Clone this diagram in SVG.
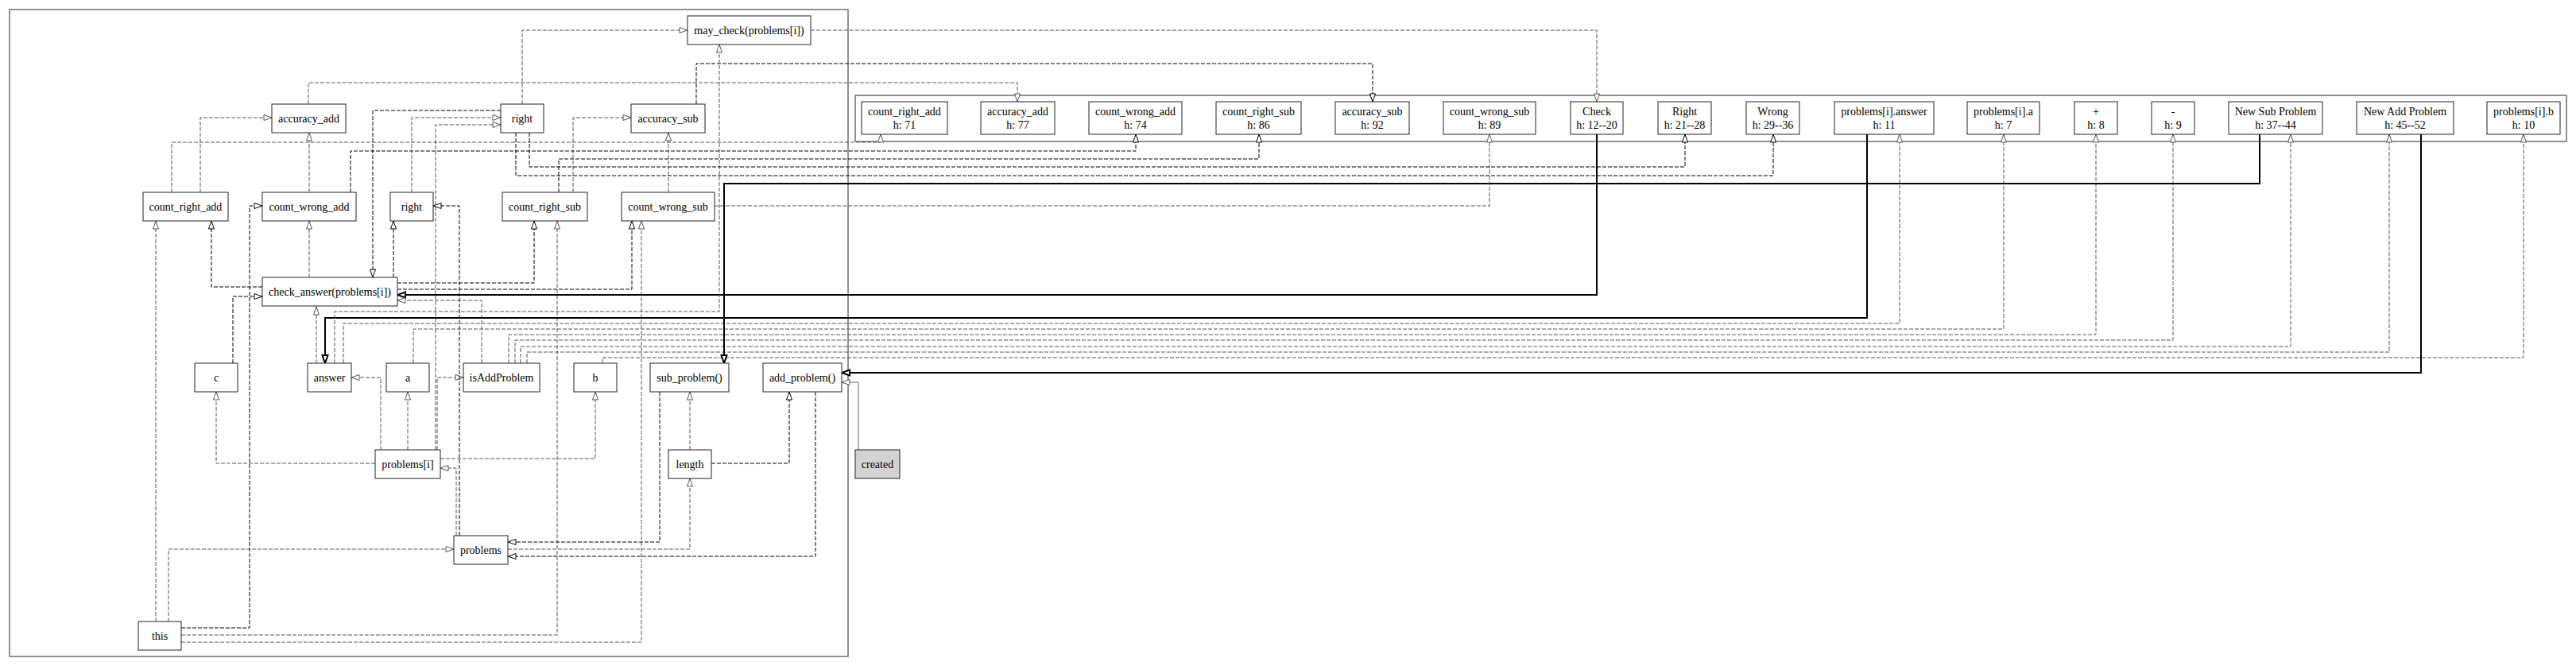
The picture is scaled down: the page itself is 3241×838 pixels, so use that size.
<svg xmlns="http://www.w3.org/2000/svg" width="3241" height="838" viewBox="0 0 3241 838">
<style>
.cl{fill:none;stroke:#6e6e6e;stroke-width:1.5}
.n rect{fill:#fff;stroke:#222;stroke-width:1}
.n text{font-family:"Liberation Serif","Times New Roman",serif;font-size:14px;text-anchor:middle;fill:#000}
.g{fill:none;stroke:#555;stroke-width:1;stroke-dasharray:5,2;marker-end:url(#ag)}
.k{fill:none;stroke:#000;stroke-width:1;stroke-dasharray:5,2;marker-end:url(#ak)}
.t{fill:none;stroke:#000;stroke-width:2;marker-end:url(#at)}
.s{fill:none;stroke:#666;stroke-width:1;marker-end:url(#ag)}
</style>
<defs>
<marker id="ag" viewBox="-1 -1 12 9" refX="10" refY="3.5" markerWidth="12" markerHeight="9" markerUnits="userSpaceOnUse" orient="auto"><path d="M0,0L10,3.5L0,7Z" fill="#fff" stroke="#555"/></marker>
<marker id="ak" viewBox="-1 -1 12 9" refX="10" refY="3.5" markerWidth="12" markerHeight="9" markerUnits="userSpaceOnUse" orient="auto"><path d="M0,0L10,3.5L0,7Z" fill="#fff" stroke="#000"/></marker>
<marker id="at" viewBox="-2 -2 14 11" refX="10" refY="3.5" markerWidth="14" markerHeight="11" markerUnits="userSpaceOnUse" orient="auto"><path d="M0,0L10,3.5L0,7Z" fill="#fff" stroke="#000" stroke-width="2"/></marker>
</defs>
<rect width="3241" height="838" fill="#fff"/>
<rect class="cl" x="12" y="12" width="1055" height="814"/>
<rect class="cl" x="1076" y="120" width="2153" height="58"/>
<g id="connectors">
<path class="g" d="M388,131V104H1280V128"/>
<path class="k" d="M876,131V80H1727V128"/>
<path class="g" d="M1020,38H2009V128"/>
<path class="g" d="M216,242V179H1108V169"/>
<path class="g" d="M252,242V148H342"/>
<path class="g" d="M389,242V167"/>
<path class="k" d="M441,242V190H1429V169"/>
<path class="g" d="M518,242V148H630"/>
<path class="k" d="M630,139H469V349"/>
<path class="g" d="M548,566V157H630"/>
<path class="g" d="M550,566V475H583"/>
<path class="g" d="M479,566V475H442"/>
<path class="g" d="M513,566V493"/>
<path class="g" d="M472,583H272V493"/>
<path class="g" d="M554,577H749V493"/>
<path class="g" d="M574,674V589H554"/>
<path class="k" d="M578,674V259H545"/>
<path class="g" d="M212,782V691H571"/>
<path class="g" d="M196,782V278"/>
<path class="k" d="M228,790H314V259H330"/>
<path class="g" d="M228,799H701V278"/>
<path class="g" d="M228,808H807V278"/>
<path class="k" d="M330,361H266V278"/>
<path class="k" d="M293,457V373H330"/>
<path class="g" d="M389,349V278"/>
<path class="k" d="M495,349V278"/>
<path class="k" d="M500,356H672V278"/>
<path class="k" d="M500,364H795V278"/>
<path class="t" d="M2009,169V371H500"/>
<path class="g" d="M606,457V378H500"/>
<path class="g" d="M398,457V386"/>
<path class="t" d="M2349,169V400H409V457"/>
<path class="g" d="M421,457V392H905V56"/>
<path class="g" d="M432,457V407H2390V169"/>
<path class="g" d="M520,457V414H2521V169"/>
<path class="g" d="M640,457V421H2637V169"/>
<path class="g" d="M648,457V428H2734V169"/>
<path class="g" d="M655,457V436H2882V169"/>
<path class="g" d="M663,457V443H3006V169"/>
<path class="g" d="M758,457V450H3175V169"/>
<path class="t" d="M2843,169V231H911V457"/>
<path class="t" d="M3046,169V469H1059"/>
<path class="k" d="M703,242V200H1584V169"/>
<path class="g" d="M721,242V148H794"/>
<path class="g" d="M841,242V167"/>
<path class="g" d="M899,259H1874V169"/>
<path class="k" d="M666,167V210H2120V169"/>
<path class="k" d="M649,167V221H2231V169"/>
<path class="g" d="M657,131V38H865"/>
<path class="k" d="M830,493V682H639"/>
<path class="g" d="M868,566V493"/>
<path class="k" d="M895,583H993V493"/>
<path class="g" d="M639,691H868V602"/>
<path class="k" d="M1026,493V700H639"/>
<path class="s" d="M1080,566V481H1059"/>
</g>
<g id="n_accuracy_add" class="n"><rect x="342" y="131" width="93" height="36"/><text x="388.5" y="153.5">accuracy_add</text></g>
<g id="n_count_right_add" class="n"><rect x="180" y="242" width="107" height="36"/><text x="233.5" y="264.5">count_right_add</text></g>
<g id="n_count_wrong_add" class="n"><rect x="330" y="242" width="118" height="36"/><text x="389" y="264.5">count_wrong_add</text></g>
<g id="n_right1" class="n"><rect x="491" y="242" width="54" height="36"/><text x="518" y="264.5">right</text></g>
<g id="n_right2" class="n"><rect x="630" y="131" width="54" height="36"/><text x="657" y="153.5">right</text></g>
<g id="n_may_check" class="n"><rect x="865" y="20" width="155" height="36"/><text x="942.5" y="42.5">may_check(problems[i])</text></g>
<g id="n_accuracy_sub" class="n"><rect x="794" y="131" width="93" height="36"/><text x="840.5" y="153.5">accuracy_sub</text></g>
<g id="n_count_right_sub" class="n"><rect x="632" y="242" width="107" height="36"/><text x="685.5" y="264.5">count_right_sub</text></g>
<g id="n_count_wrong_sub" class="n"><rect x="782" y="242" width="117" height="36"/><text x="840.5" y="264.5">count_wrong_sub</text></g>
<g id="n_check_answer" class="n"><rect x="330" y="349" width="170" height="36"/><text x="415" y="371.5">check_answer(problems[i])</text></g>
<g id="n_c" class="n"><rect x="245" y="457" width="54" height="36"/><text x="272" y="479.5">c</text></g>
<g id="n_answer" class="n"><rect x="387" y="457" width="55" height="36"/><text x="414.5" y="479.5">answer</text></g>
<g id="n_a" class="n"><rect x="486" y="457" width="54" height="36"/><text x="513" y="479.5">a</text></g>
<g id="n_isAddProblem" class="n"><rect x="583" y="457" width="96" height="36"/><text x="631" y="479.5">isAddProblem</text></g>
<g id="n_b" class="n"><rect x="722" y="457" width="54" height="36"/><text x="749" y="479.5">b</text></g>
<g id="n_sub_problem" class="n"><rect x="818" y="457" width="99" height="36"/><text x="867.5" y="479.5">sub_problem()</text></g>
<g id="n_add_problem" class="n"><rect x="960" y="457" width="99" height="36"/><text x="1009.5" y="479.5">add_problem()</text></g>
<g id="n_problems_i" class="n"><rect x="472" y="566" width="82" height="36"/><text x="513" y="588.5">problems[i]</text></g>
<g id="n_length" class="n"><rect x="841" y="566" width="54" height="36"/><text x="868" y="588.5">length</text></g>
<g id="n_problems" class="n"><rect x="571" y="674" width="68" height="36"/><text x="605" y="696.5">problems</text></g>
<g id="n_this" class="n"><rect x="174" y="782" width="54" height="36"/><text x="201" y="804.5">this</text></g>
<g id="n_created" class="n"><rect x="1076" y="566" width="56" height="36" style="fill:#d3d3d3"/><text x="1104" y="588.5">created</text></g>
<g id="h_count_right_add" class="n"><rect x="1084" y="128" width="108" height="41"/><text x="1138" y="145">count_right_add</text><text x="1138" y="162">h: 71</text></g>
<g id="h_accuracy_add" class="n"><rect x="1234" y="128" width="93" height="41"/><text x="1280.5" y="145">accuracy_add</text><text x="1280.5" y="162">h: 77</text></g>
<g id="h_count_wrong_add" class="n"><rect x="1370" y="128" width="117" height="41"/><text x="1428.5" y="145">count_wrong_add</text><text x="1428.5" y="162">h: 74</text></g>
<g id="h_count_right_sub" class="n"><rect x="1530" y="128" width="107" height="41"/><text x="1583.5" y="145">count_right_sub</text><text x="1583.5" y="162">h: 86</text></g>
<g id="h_accuracy_sub" class="n"><rect x="1680" y="128" width="93" height="41"/><text x="1726.5" y="145">accuracy_sub</text><text x="1726.5" y="162">h: 92</text></g>
<g id="h_count_wrong_sub" class="n"><rect x="1816" y="128" width="116" height="41"/><text x="1874" y="145">count_wrong_sub</text><text x="1874" y="162">h: 89</text></g>
<g id="h_check" class="n"><rect x="1976" y="128" width="66" height="41"/><text x="2009" y="145">Check</text><text x="2009" y="162">h: 12--20</text></g>
<g id="h_right" class="n"><rect x="2086" y="128" width="67" height="41"/><text x="2119.5" y="145">Right</text><text x="2119.5" y="162">h: 21--28</text></g>
<g id="h_wrong" class="n"><rect x="2197" y="128" width="67" height="41"/><text x="2230.5" y="145">Wrong</text><text x="2230.5" y="162">h: 29--36</text></g>
<g id="h_pi_answer" class="n"><rect x="2308" y="128" width="125" height="41"/><text x="2370.5" y="145">problems[i].answer</text><text x="2370.5" y="162">h: 11</text></g>
<g id="h_pi_a" class="n"><rect x="2475" y="128" width="91" height="41"/><text x="2520.5" y="145">problems[i].a</text><text x="2520.5" y="162">h: 7</text></g>
<g id="h_plus" class="n"><rect x="2610" y="128" width="54" height="41"/><text x="2637" y="145">+</text><text x="2637" y="162">h: 8</text></g>
<g id="h_minus" class="n"><rect x="2707" y="128" width="54" height="41"/><text x="2734" y="145">-</text><text x="2734" y="162">h: 9</text></g>
<g id="h_new_sub" class="n"><rect x="2804" y="128" width="118" height="41"/><text x="2863" y="145">New Sub Problem</text><text x="2863" y="162">h: 37--44</text></g>
<g id="h_new_add" class="n"><rect x="2965" y="128" width="122" height="41"/><text x="3026" y="145">New Add Problem</text><text x="3026" y="162">h: 45--52</text></g>
<g id="h_pi_b" class="n"><rect x="3129" y="128" width="92" height="41"/><text x="3175" y="145">problems[i].b</text><text x="3175" y="162">h: 10</text></g>
</svg>
